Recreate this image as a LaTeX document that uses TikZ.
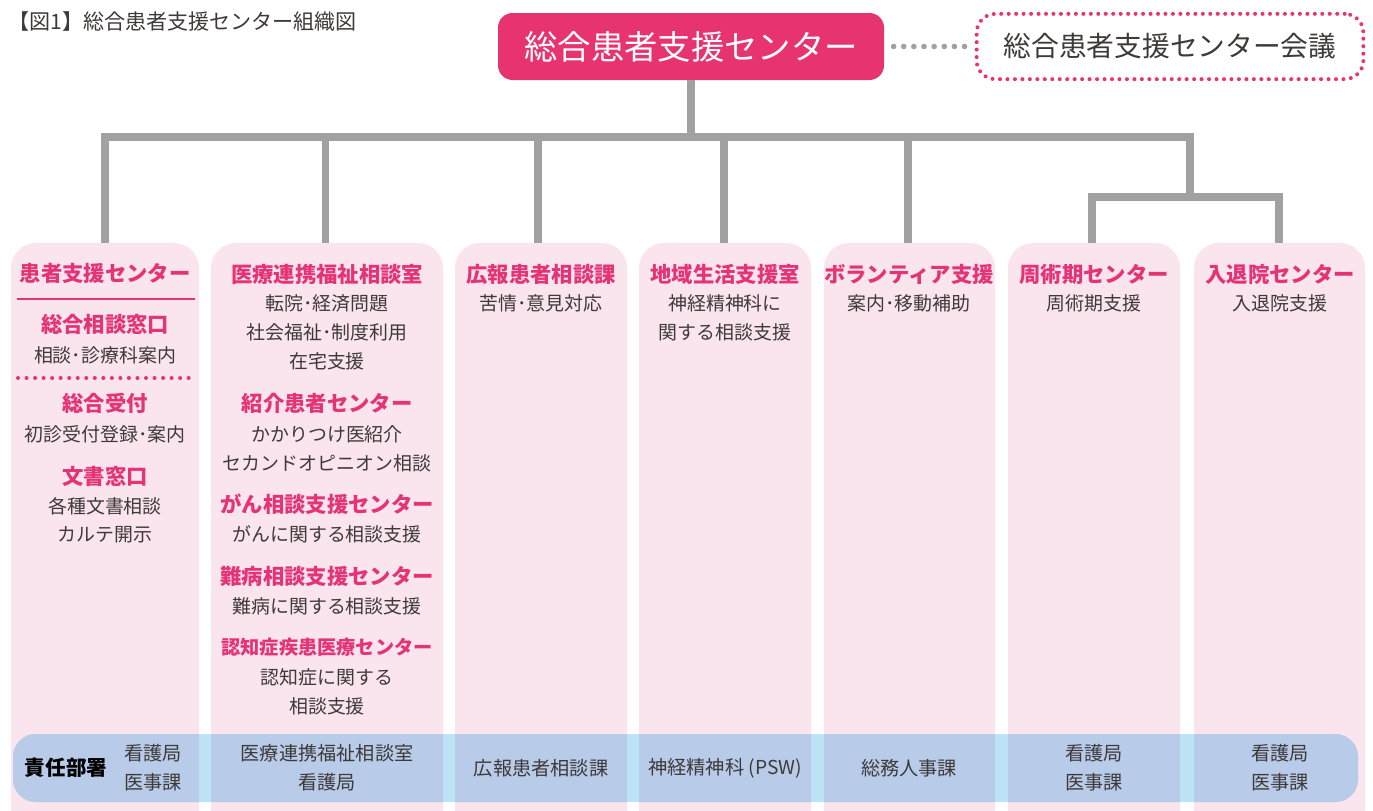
\documentclass[tikz,border=0pt]{standalone}
\usepackage{fontspec}
\setmainfont{Noto Sans CJK JP}
\definecolor{mainpink}{RGB}{232,51,113}
\definecolor{hpink}{RGB}{228,52,118}
\definecolor{colpink}{RGB}{250,228,238}
\definecolor{conngray}{RGB}{160,161,160}
\definecolor{bandA}{RGB}{189,227,246}
\definecolor{bandB}{RGB}{184,203,232}
\definecolor{txt}{RGB}{62,58,57}
\tikzset{
  x=0.75pt, y=-0.75pt,
  conn/.style={draw=conngray, line width=5.6pt, line join=miter},
  body/.style={font=\fontsize{14.2pt}{17pt}\selectfont, text=txt, inner sep=0pt},
  head/.style={font=\fontsize{16pt}{19pt}\selectfont\bfseries, text=hpink, inner sep=0pt},
  bandtxt/.style={font=\fontsize{14.4pt}{17pt}\selectfont, text=txt, inner sep=0pt},
}
\begin{document}
\begin{tikzpicture}
\useasboundingbox (0,0) rectangle (1373,810);
\clip (0,0) rectangle (1373,810);
\fill[white] (0,0) rectangle (1373,810);

% title
\node[font=\fontsize{15.8pt}{18pt}\selectfont, text=txt, anchor=west, inner sep=0pt] (title) at (8,22) {【図1】総合患者支援センター組織図};

% main box and meeting
\node[fill=mainpink, rounded corners=11pt, minimum width=289.5pt, minimum height=50.25pt, inner sep=0pt,
      text=white, font=\fontsize{25pt}{28pt}\selectfont] (main) at (691,46.5) {総合患者支援センター};
\node[draw=mainpink, line width=3pt, dash pattern=on 0pt off 5.6pt, line cap=round, rounded corners=14pt,
      minimum width=290pt, minimum height=49pt, inner sep=0pt, text=txt,
      font=\fontsize{20.8pt}{24pt}\selectfont] (meet) at (1170,46.5) {総合患者支援センター会議};
\draw[draw=conngray, line width=4.2pt, dash pattern=on 0pt off 7.6pt, line cap=round,
      shorten <=7pt, shorten >=7.5pt] (main.east) -- (meet.west);

% connectors
\coordinate (c1) at (105,243);
\coordinate (c2) at (325.5,243);
\coordinate (c3) at (538,243);
\coordinate (c4) at (724,243);
\coordinate (c5) at (908,243);
\coordinate (c6) at (1092,243);
\coordinate (c7) at (1279,243);
\coordinate (bus) at (1190,137);
\coordinate (split) at (1190,197);
\draw[conn] (main.south) -- (main.south |- bus);
\draw[conn] (c1) |- (bus) -- (split);
\foreach \c in {c2,c3,c4,c5} \draw[conn] (\c) -- (\c |- bus);
\draw[conn] (c6) |- (split) -| (c7);

% columns
\foreach \a/\b in {11/199, 211/443, 455/627, 639/811, 824/995, 1008/1180, 1194/1365}
  \fill[colpink, rounded corners=18.75pt] (\a,840) -- (\a,243) -- (\b,243) -- (\b,840) -- cycle;

% band
\fill[bandA, rounded corners=17pt] (13,734) rectangle (1358,802);
\foreach \a/\b in {11/199, 211/443, 455/627, 639/811, 824/995, 1008/1180, 1194/1365}{
  \begin{scope}
    \clip[rounded corners=18.75pt] (\a,840) -- (\a,243) -- (\b,243) -- (\b,840) -- cycle;
    \fill[bandB, rounded corners=17pt] (13,734) rectangle (1358,802);
  \end{scope}
}

% column 1
\node[head] (h1) at (105,273) {患者支援センター};
\draw[hpink, line width=0.8pt] (17,299) -- (195,299);
\node[head] (h1a) at (105,324) {総合相談窓口};
\node[body] (t1a) at (105,355) {相談･診療科案内};
\draw[hpink, line width=3pt, dash pattern=on 0pt off 6.4pt, line cap=round] (18,378) -- (196,378);
\node[head] (h1b) at (105,403) {総合受付};
\node[body] (t1b) at (105,434) {初診受付登録･案内};
\node[head] (h1c) at (105,476) {文書窓口};
\node[body] (t1c1) at (105,506) {各種文書相談};
\node[body] (t1c2) at (105,535) {カルテ開示};

% column 2
\node[head] (h2) at (327,274) {医療連携福祉相談室};
\node[body] (t2a) at (327,303) {転院･経済問題};
\node[body] (t2b) at (327,332) {社会福祉･制度利用};
\node[body] (t2c) at (327,361) {在宅支援};
\node[head] (h2b) at (327,403) {紹介患者センター};
\node[body] (t2d) at (327,434) {かかりつけ医紹介};
\node[body] (t2e) at (327,463) {セカンドオピニオン相談};
\node[head] (h2c) at (327,504) {がん相談支援センター};
\node[body] (t2f) at (327,534) {がんに関する相談支援};
\node[head] (h2d) at (327,576) {難病相談支援センター};
\node[body] (t2g) at (327,606) {難病に関する相談支援};
\node[head, font=\fontsize{14.4pt}{17pt}\selectfont\bfseries] (h2e) at (327,647) {認知症疾患医療センター};
\node[body] (t2h) at (327,677) {認知症に関する};
\node[body] (t2i) at (327,706) {相談支援};

% columns 3-7
\node[head] (h3) at (541,274) {広報患者相談課};
\node[body] (t3) at (541,303) {苦情･意見対応};
\node[head] (h4) at (725,274) {地域生活支援室};
\node[body] (t4a) at (725,303) {神経精神科に};
\node[body] (t4b) at (725,332) {関する相談支援};
\node[head] (h5) at (909,274) {ボランティア支援};
\node[body] (t5) at (909,303) {案内･移動補助};
\node[head] (h6) at (1094,274) {周術期センター};
\node[body] (t6) at (1094,303) {周術期支援};
\node[head] (h7) at (1280,274) {入退院センター};
\node[body] (t7) at (1280,303) {入退院支援};

% band texts
\node[bandtxt, font=\fontsize{15.4pt}{18pt}\selectfont\bfseries, text=black] (resp) at (66,768) {責任部署};
\node[bandtxt] (b1a) at (153,753) {看護局};
\node[bandtxt] (b1b) at (153,782) {医事課};
\node[bandtxt] (b2a) at (327,753) {医療連携福祉相談室};
\node[bandtxt] (b2b) at (327,782) {看護局};
\node[bandtxt] (b3) at (541,768) {広報患者相談課};
\node[bandtxt] (b4) at (725,768) {神経精神科 (PSW)};
\node[bandtxt] (b5) at (909,768) {総務人事課};
\node[bandtxt] (b6a) at (1094,753) {看護局};
\node[bandtxt] (b6b) at (1094,782) {医事課};
\node[bandtxt] (b7a) at (1280,753) {看護局};
\node[bandtxt] (b7b) at (1280,782) {医事課};
\end{tikzpicture}
\end{document}
